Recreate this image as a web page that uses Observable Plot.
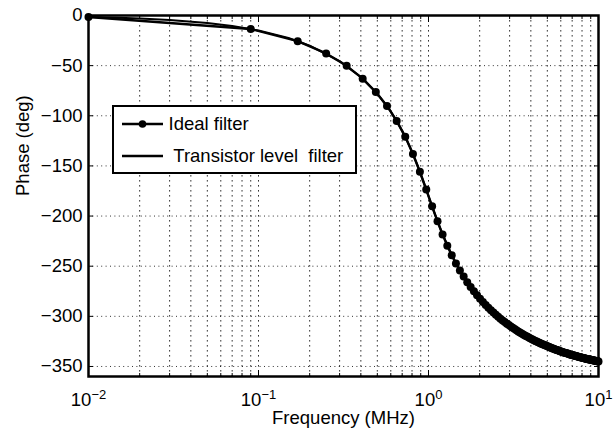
<!DOCTYPE html>
<html><head><meta charset="utf-8">
<script src="https://cdn.jsdelivr.net/npm/d3@7"></script>
<script src="https://cdn.jsdelivr.net/npm/@observablehq/plot@0.6"></script>
<style>
html,body{margin:0;padding:0;background:#fff;}
#wrap{position:relative;width:616px;height:430px;font-family:"Liberation Sans",Arial,Helvetica,sans-serif;color:#000;}
#legend{position:absolute;left:112px;top:105px;width:245px;height:69px;box-sizing:border-box;border:2.5px solid #000;background:#fff;font-size:18.5px;}
#legend .row{position:absolute;left:7.5px;height:20px;display:flex;align-items:center;white-space:pre;}
#legend .row svg{display:block;margin-right:6px;}
</style></head><body>
<div id="wrap"></div>
<script>
// ---- data ----
const idealFreq = [
0.01,0.09,0.17,0.25,0.33,0.41,0.49,0.57,0.65,0.73,
0.81,0.89,0.97,1.05,1.13,1.21,1.29,1.37,1.45,1.53,
1.61,1.69,1.77,1.85,1.93,2.01,2.09,2.17,2.25,2.33,
2.41,2.49,2.57,2.65,2.73,2.81,2.89,2.97,3.05,3.13,
3.21,3.29,3.37,3.45,3.53,3.61,3.69,3.77,3.85,3.93,
4.01,4.09,4.17,4.25,4.33,4.41,4.49,4.57,4.65,4.73,
4.81,4.89,4.97,5.05,5.13,5.21,5.29,5.37,5.45,5.53,
5.61,5.69,5.77,5.85,5.93,6.01,6.09,6.17,6.25,6.33,
6.41,6.49,6.57,6.65,6.73,6.81,6.89,6.97,7.05,7.13,
7.21,7.29,7.37,7.45,7.53,7.61,7.69,7.77,7.85,7.93,
8.01,8.09,8.17,8.25,8.33,8.41,8.49,8.57,8.65,8.73,
8.81,8.89,8.97,9.05,9.13,9.21,9.29,9.37,9.45,9.53,
9.61,9.69,9.77,9.85,9.93,10];
const idealPhase = [
-1.5,-13.5,-25.6,-37.8,-50.2,-63.0,-76.3,-90.2,-105.1,-121.0,
-138.1,-155.8,-173.6,-190.3,-205.3,-218.4,-229.5,-239.0,-247.2,-254.2,
-260.4,-265.9,-270.7,-275.0,-278.9,-282.5,-285.7,-288.7,-291.4,-293.9,
-296.2,-298.4,-300.4,-302.3,-304.1,-305.7,-307.3,-308.7,-310.1,-311.4,
-312.7,-313.9,-315.0,-316.1,-317.1,-318.1,-319.0,-319.9,-320.7,-321.6,
-322.3,-323.1,-323.8,-324.5,-325.2,-325.8,-326.4,-327.0,-327.6,-328.2,
-328.7,-329.2,-329.7,-330.2,-330.7,-331.1,-331.6,-332.0,-332.4,-332.8,
-333.2,-333.6,-333.9,-334.3,-334.7,-335.0,-335.3,-335.7,-336.0,-336.3,
-336.6,-336.9,-337.1,-337.4,-337.7,-338.0,-338.2,-338.5,-338.7,-338.9,
-339.2,-339.4,-339.6,-339.9,-340.1,-340.3,-340.5,-340.7,-340.9,-341.1,
-341.3,-341.5,-341.6,-341.8,-342.0,-342.2,-342.3,-342.5,-342.7,-342.8,
-343.0,-343.1,-343.3,-343.4,-343.6,-343.7,-343.9,-344.0,-344.1,-344.3,
-344.4,-344.5,-344.7,-344.8,-344.9,-345.0];
const transFreq = [0.01,0.015,0.02,0.03,0.05,0.07,0.1,0.15,0.2,0.3,0.4,0.5,0.6,0.7,0.75,0.8,0.85,0.9,0.95,1.0,1.05,1.1,1.2,1.4,1.6,1.8,2.0,2.5,3,4,5,6,7,8,10];
const transPhase = [-1.5,-2.3,-3.0,-4.5,-7.5,-10.5,-15.0,-22.5,-30.1,-45.5,-61.4,-78.0,-95.7,-114.9,-125.2,-135.9,-146.9,-158.1,-169.2,-180.0,-190.3,-199.9,-216.8,-242.2,-259.7,-272.4,-282.0,-298.6,-309.3,-322.2,-329.9,-335.0,-338.6,-341.2,-345.0];
const seriesNames = ["Ideal filter", " Transistor level  filter"];
const yTicks = [-350,-300,-250,-200,-150,-100,-50,0];
const xMajor = [0.01,0.1,1,10];
const xExp = ["\u22122","\u22121","0","1"];
const xMinor = [0.02,0.03,0.04,0.05,0.06,0.07,0.08,0.09,0.2,0.3,0.4,0.5,0.6,0.7,0.8,0.9,2,3,4,5,6,7,8,9];
const xLabel = "Frequency (MHz)";
const yLabel = "Phase (deg)";

// ---- build tables ----
const ideal = idealFreq.map((f,i)=>({f, p: idealPhase[i]}));
const trans = transFreq.map((f,i)=>({f, p: transPhase[i]}));
const yGrid = yTicks.filter(d => d !== 0);
const xGrid = [0.1, 1, ...xMinor];
const fmtY = d => d === 0 ? "0" : "\u2212" + Math.abs(d);
const FONT = '"Liberation Sans", Arial, Helvetica, sans-serif';

const chart = Plot.plot({
  width: 616, height: 430,
  marginLeft: 88, marginRight: 18, marginTop: 15, marginBottom: 54,
  style: {fontFamily: FONT, fontSize: "18.5px", color: "#000", background: "#fff", overflow: "visible"},
  x: {type: "log", domain: [0.01, 10]},
  y: {domain: [-360, 0]},
  marks: [
    Plot.ruleY(yGrid, {stroke: "#000", strokeOpacity: 0.8, strokeWidth: 1, strokeDasharray: "1,3.4"}),
    Plot.ruleX(xGrid, {stroke: "#000", strokeOpacity: 0.8, strokeWidth: 1, strokeDasharray: "1.6,3.4"}),
    Plot.line(trans, {x: "f", y: "p", stroke: "#000", strokeWidth: 2}),
    Plot.line(ideal, {x: "f", y: "p", stroke: "#000", strokeWidth: 2.4}),
    Plot.dot(ideal, {x: "f", y: "p", r: 4, fill: "#000", stroke: null}),
    Plot.axisY(yTicks, {anchor: "left", tickSize: -5, tickPadding: 11, tickFormat: fmtY, label: null, fontSize: 18.5}),
    Plot.axisY(yTicks, {anchor: "right", tickSize: -5, tickFormat: () => "", label: null}),
    Plot.axisX(xMajor, {anchor: "bottom", tickSize: -6, tickFormat: () => "", label: null}),
    Plot.axisX(xMinor, {anchor: "bottom", tickSize: -3, tickFormat: () => "", label: null}),
    Plot.axisX(xMajor, {anchor: "top", tickSize: -6, tickFormat: () => "", label: null}),
    Plot.axisX(xMinor, {anchor: "top", tickSize: -3, tickFormat: () => "", label: null}),
    Plot.text(xMajor, {x: d => d, text: (d, i) => "10|" + xExp[i], frameAnchor: "bottom", dy: 29, lineAnchor: "bottom", fontSize: 18.5}),
    Plot.text([xLabel], {frameAnchor: "bottom", dy: 47, lineAnchor: "bottom", fontSize: 18.5}),
    Plot.text([yLabel], {frameAnchor: "left", dx: -65, rotate: -90, lineAnchor: "middle", fontSize: 18.5}),
    Plot.frame({stroke: "#000", strokeWidth: 2.5})
  ]
});

// turn "10|e" into 10 with a superscript exponent
chart.querySelectorAll("text").forEach(t => {
  const s = t.textContent;
  if (s.indexOf("|") < 0) return;
  const [base, exp] = s.split("|");
  while (t.firstChild) t.removeChild(t.firstChild);
  t.appendChild(document.createTextNode(base));
  const ts = document.createElementNS("http://www.w3.org/2000/svg", "tspan");
  ts.setAttribute("dy", "-7");
  ts.setAttribute("font-size", "13");
  ts.textContent = exp;
  t.appendChild(ts);
});

const wrap = document.getElementById("wrap");
wrap.appendChild(chart);

// legend (inside the axes, like the original)
const legend = document.createElement("div");
legend.id = "legend";
const rowTops = [6.5, 38.5];
seriesNames.forEach((name, i) => {
  const row = document.createElement("div");
  row.className = "row";
  row.style.top = rowTops[i] + "px";
  const ns = "http://www.w3.org/2000/svg";
  const s = document.createElementNS(ns, "svg");
  s.setAttribute("width", "41"); s.setAttribute("height", "20");
  const ln = document.createElementNS(ns, "line");
  ln.setAttribute("x1", "0"); ln.setAttribute("x2", "41"); ln.setAttribute("y1", "10"); ln.setAttribute("y2", "10");
  ln.setAttribute("stroke", "#000"); ln.setAttribute("stroke-width", "2.6");
  s.appendChild(ln);
  if (i === 0) {
    const c = document.createElementNS(ns, "circle");
    c.setAttribute("cx", "20.5"); c.setAttribute("cy", "10"); c.setAttribute("r", "3.8"); c.setAttribute("fill", "#000");
    s.appendChild(c);
  }
  row.appendChild(s);
  const sp = document.createElement("span");
  sp.textContent = name;
  row.appendChild(sp);
  legend.appendChild(row);
});
wrap.appendChild(legend);
</script>
</body></html>
